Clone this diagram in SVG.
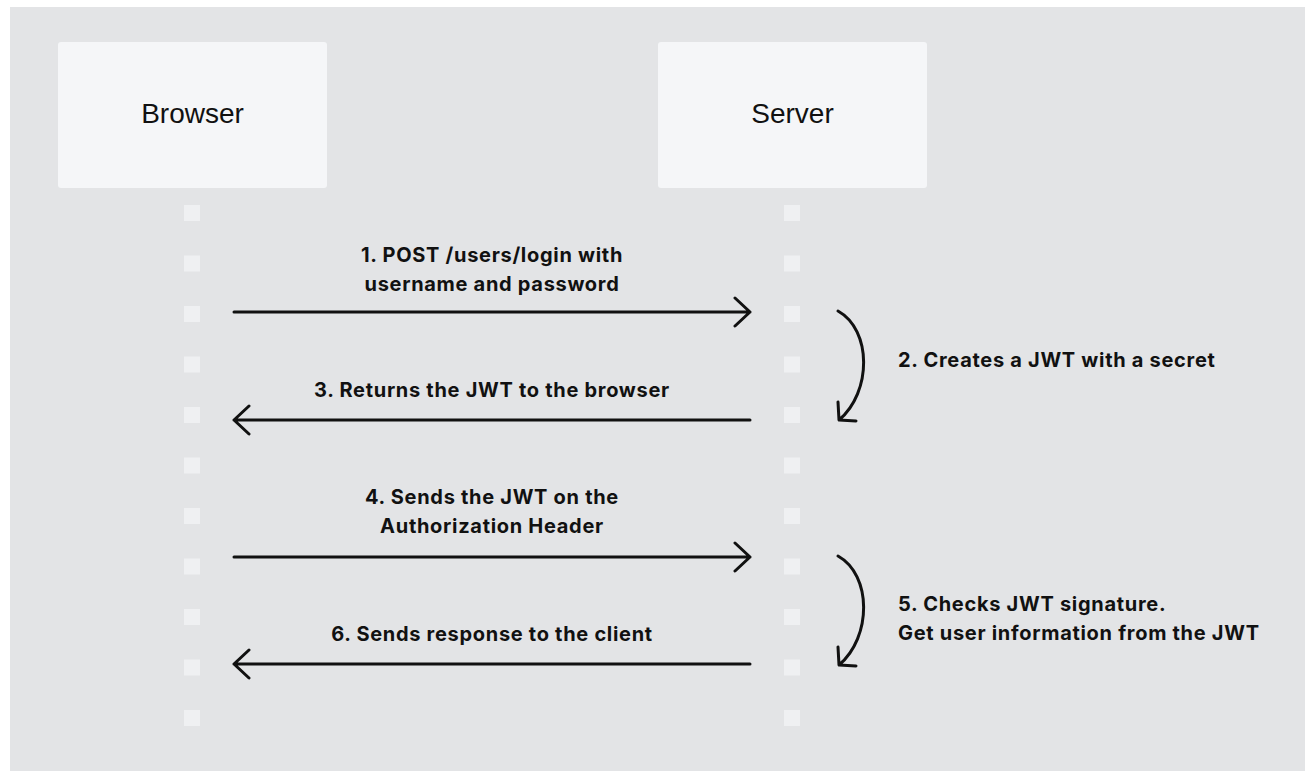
<svg xmlns="http://www.w3.org/2000/svg" width="1305" height="771" viewBox="0 0 1305 771">
<defs>
<style>
.bg{fill:#e3e4e6}
.box{fill:#f5f6f8}
.dot{fill:#eff0f2}
.title{font-family:"Liberation Sans",Arial,sans-serif;font-size:28px;fill:#111;text-anchor:middle}
.lbl{font-family:Inter,"Liberation Sans",sans-serif;font-weight:700;font-size:20px;letter-spacing:0.7px;fill:#111}
.mid{text-anchor:middle}
.ln{fill:none;stroke:#111;stroke-width:3;stroke-linecap:round;stroke-linejoin:round}
</style>
<g id="dots">
<rect class="dot" x="0" y="0" width="16" height="16"/>
</g>
</defs>
<rect x="0" y="0" width="1305" height="771" fill="#ffffff"/>
<rect class="bg" x="10" y="7" width="1295" height="764"/>
<g id="browser">
<rect class="box" x="58" y="42" width="269" height="146" rx="3"/>
<text class="title" x="192.5" y="123">Browser</text>
</g>
<g id="server">
<rect class="box" x="658" y="42" width="269" height="146" rx="3"/>
<text class="title" x="792.5" y="123">Server</text>
</g>
<g id="browser-lifeline">
<use href="#dots" x="184" y="205"/><use href="#dots" x="184" y="255.5"/><use href="#dots" x="184" y="306"/><use href="#dots" x="184" y="356.5"/><use href="#dots" x="184" y="407"/><use href="#dots" x="184" y="457.5"/><use href="#dots" x="184" y="508"/><use href="#dots" x="184" y="558.5"/><use href="#dots" x="184" y="609"/><use href="#dots" x="184" y="659.5"/><use href="#dots" x="184" y="710"/>
</g>
<g id="server-lifeline">
<use href="#dots" x="784" y="205"/><use href="#dots" x="784" y="255.5"/><use href="#dots" x="784" y="306"/><use href="#dots" x="784" y="356.5"/><use href="#dots" x="784" y="407"/><use href="#dots" x="784" y="457.5"/><use href="#dots" x="784" y="508"/><use href="#dots" x="784" y="558.5"/><use href="#dots" x="784" y="609"/><use href="#dots" x="784" y="659.5"/><use href="#dots" x="784" y="710"/>
</g>
<g id="connectors">
<path class="ln" d="M234 312H750M735 298L750 312L735 326"/>
<path class="ln" d="M750 420H234M249 406L234 420L249 434"/>
<path class="ln" d="M234 557H750M735 543L750 557L735 571"/>
<path class="ln" d="M750 664H234M249 650L234 664L249 678"/>
<path class="ln" d="M838 311C872 330 872 392 839 420M838 402L839 420L856 421"/>
<path class="ln" d="M838 556C872 575 872 637 839 665M838 647L839 665L856 666"/>
</g>
<g id="labels">
<text class="lbl mid" x="492" y="262">1. POST /users/login with</text>
<text class="lbl mid" x="492" y="291">username and password</text>
<text class="lbl" x="898" y="367">2. Creates a JWT with a secret</text>
<text class="lbl mid" x="492" y="397">3. Returns the JWT to the browser</text>
<text class="lbl mid" x="492" y="504">4. Sends the JWT on the</text>
<text class="lbl mid" x="492" y="533">Authorization Header</text>
<text class="lbl" x="898" y="611">5. Checks JWT signature.</text>
<text class="lbl" x="898" y="640">Get user information from the JWT</text>
<text class="lbl mid" x="492" y="641">6. Sends response to the client</text>
</g>
</svg>
